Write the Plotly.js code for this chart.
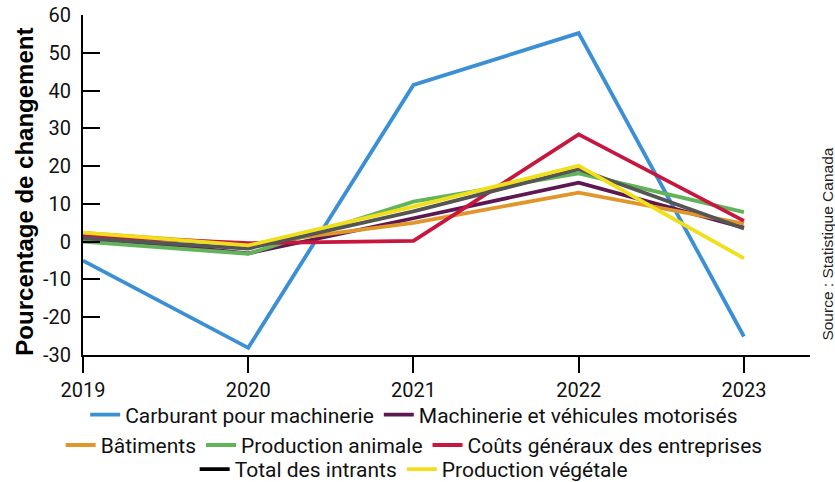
<!DOCTYPE html>
<html><head><meta charset="utf-8">
<script src="https://cdn.plot.ly/plotly-3.0.1.min.js"></script>
<style>body{margin:0;background:#fff}#c{width:835px;height:482px}</style>
</head><body><div id="c"></div>
<script>
const years = [2019, 2020, 2021, 2022, 2023];
const yTicks = [-30, -20, -10, 0, 10, 20, 30, 40, 50, 60];
const carburant = [-5.0, -28.1, 41.5, 55.2, -25.1];
const machinerie = [1.2, -3.1, 6.2, 15.6, 3.7];
const batiments = [2.3, -0.7, 5.0, 13.0, 4.8];
const animale = [0.0, -3.2, 10.6, 18.1, 7.8];
const couts = [1.5, -0.4, 0.2, 28.4, 5.5];
const total = [0.9, -1.8, 8.0, 19.2, 3.5];
const vegetale = [2.4, -1.0, 9.3, 20.1, -4.4];

const names = ["Carburant pour machinerie","Machinerie et véhicules motorisés","Bâtiments","Production animale","Coûts généraux des entreprises","Total des intrants","Production végétale"];
const colors = ["#3b8fd4","#5e1850","#e0962a","#62b45a","#c8173f","#555555","#f0df1a"];
const series = [carburant, machinerie, batiments, animale, couts, total, vegetale];
const legendOf = ["legend","legend","legend2","legend2","legend2","legend3","legend3"];

const traces = [];
series.forEach((s,i)=>{
  const isTotal = i===5;
  traces.push({
    x: years, y: s, type:'scatter', mode:'lines', name:names[i],
    line:{color:colors[i], width:3.8}, cliponaxis:false,
    legend: legendOf[i], showlegend: !isTotal, hoverinfo:'skip'
  });
  if(isTotal){
    traces.push({x:[null], y:[null], type:'scatter', mode:'lines', name:names[i],
      line:{color:'#000000', width:3.8}, legend:'legend3', showlegend:true});
  }
});

const lf = {family:'Roboto, "Open Sans", sans-serif', size:21, color:'#111'};
const legBase = {orientation:'h', xanchor:'center', yanchor:'middle', x:0.496, xref:'container', yref:'container',
  font:lf, bgcolor:'rgba(0,0,0,0)', itemwidth:30, tracegroupgap:0, traceorder:'normal'};

const layout = {
  width:835, height:482,
  margin:{l:83, r:25, t:15, b:127, autoexpand:false},
  paper_bgcolor:'#fff', plot_bgcolor:'#fff',
  showlegend:true,
  xaxis:{range:[2019,2023.4], tickvals:years, ticktext:years.map(String),
    showgrid:false, zeroline:false, showline:true, linecolor:'#000', linewidth:2,
    ticks:'outside', ticklen:16, tickwidth:2, tickcolor:'#000',
    tickfont:{family:'Roboto, sans-serif', size:20, color:'#111'}},
  yaxis:{range:[-30,60], tickvals:yTicks, ticktext:yTicks.map(v=>String(v)),
    showgrid:false, zeroline:false, showline:true, linecolor:'#000', linewidth:2,
    ticks:'inside', ticklen:17, tickwidth:2, tickcolor:'#000', ticklabelstandoff:6,
    tickfont:{family:'Roboto, sans-serif', size:20, color:'#111'}},
  legend: Object.assign({}, legBase, {y:0.139}),
  legend2: Object.assign({}, legBase, {y:0.076}),
  legend3: Object.assign({}, legBase, {y:0.026}),
  annotations:[
    {text:'<b>Pourcentage de changement</b>', xref:'paper', yref:'paper',
      x:-0.08, y:0.48, xanchor:'center', yanchor:'middle', textangle:-90, showarrow:false,
      font:{family:'"Liberation Sans", Arial, sans-serif', size:24, color:'#000'}},
    {text:'Source : Statistique Canada', xref:'paper', yref:'paper',
      x:1.024, y:0.326, xanchor:'center', yanchor:'middle', textangle:-90, showarrow:false,
      font:{family:'"Liberation Sans", Arial, sans-serif', size:15.5, color:'#222'}}]
};
Plotly.newPlot('c', traces, layout, {staticPlot:true, displayModeBar:false});
</script></body></html>
